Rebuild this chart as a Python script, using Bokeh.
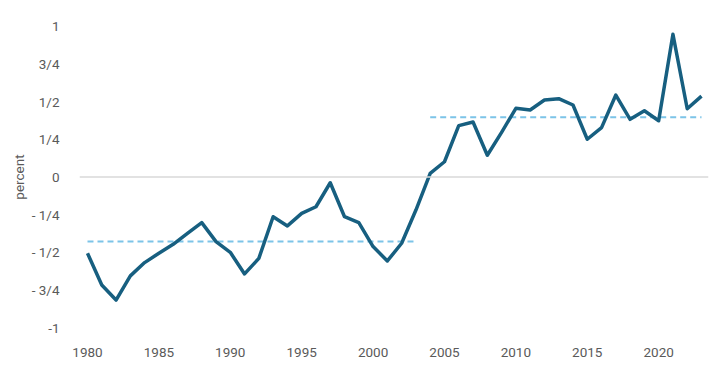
from bokeh.plotting import figure
from bokeh.models import Range1d, FixedTicker, Span, ColumnDataSource
from bokeh.embed import file_html
from bokeh.resources import INLINE

years = list(range(1980, 2024))
values = [-0.505, -0.715, -0.815, -0.655, -0.567, -0.505, -0.446, -0.373, -0.302, -0.428,
          -0.499, -0.642, -0.539, -0.263, -0.324, -0.241, -0.197, -0.038, -0.263, -0.302,
          -0.461, -0.556, -0.439, -0.219, 0.024, 0.101, 0.340, 0.364, 0.144, 0.296,
          0.455, 0.444, 0.510, 0.519, 0.477, 0.250, 0.327, 0.543, 0.382, 0.439,
          0.373, 0.945, 0.452, 0.536]

avg1_years = [1980, 2003]
avg1_value = -0.428
avg2_years = [2004, 2023]
avg2_value = 0.395

y_ticks = [-1, -0.75, -0.5, -0.25, 0, 0.25, 0.5, 0.75, 1]
y_tick_labels = ["-1", "- 3/4", "- 1/2", "- 1/4", "0", "1/4", "1/2", "3/4", "1"]
x_ticks = [1980, 1985, 1990, 1995, 2000, 2005, 2010, 2015, 2020]

FONT = "Roboto"
TXT = "#5a5a5a"

p = figure(frame_width=629, frame_height=317, output_backend="svg", toolbar_location=None,
           x_range=Range1d(1979.44, 2023.49), y_range=Range1d(-1.05, 1.05),
           min_border_left=79, min_border_right=6, min_border_top=18, min_border_bottom=25)
p.outline_line_color = None
p.grid.grid_line_color = None
p.background_fill_color = "white"
p.border_fill_color = "white"

p.add_layout(Span(location=0, dimension="width", line_color="#d9d9d9", line_width=1.5))

p.line(avg1_years, [avg1_value] * 2, line_color="#7cc4e8", line_width=2, line_dash="6 4")
p.line(avg2_years, [avg2_value] * 2, line_color="#7cc4e8", line_width=2, line_dash="6 4")

src = ColumnDataSource(dict(x=years, y=values))
p.line("x", "y", source=src, line_color="#175f80", line_width=3.5, line_join="round")

p.yaxis.ticker = FixedTicker(ticks=y_ticks)
p.yaxis.major_label_overrides = {t: l for t, l in zip(y_ticks, y_tick_labels)}
p.xaxis.ticker = FixedTicker(ticks=x_ticks)
for ax in (p.xaxis, p.yaxis):
    ax.axis_line_color = None
    ax.major_tick_line_color = None
    ax.minor_tick_line_color = None
    ax.major_label_text_font = FONT
    ax.major_label_text_font_size = "13.5px"
    ax.major_label_text_color = TXT
p.yaxis.major_label_standoff = 14
p.xaxis.major_label_standoff = 6
p.yaxis.axis_label = "percent"
p.yaxis.axis_label_text_font = FONT
p.yaxis.axis_label_text_font_size = "13.5px"
p.yaxis.axis_label_text_font_style = "normal"
p.yaxis.axis_label_text_color = TXT
p.yaxis.axis_label_standoff = 2

open("out.html", "w").write(file_html(p, INLINE))
